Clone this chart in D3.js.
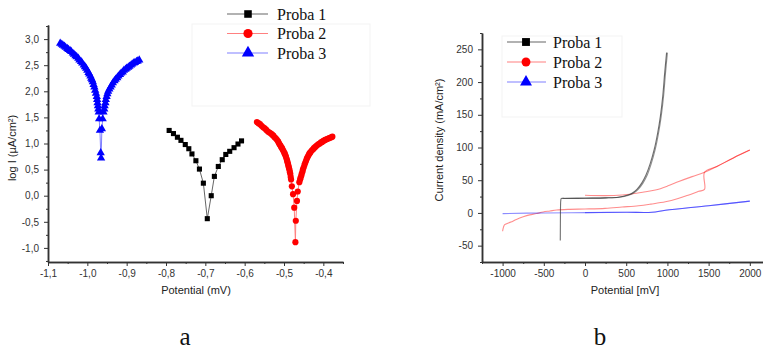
<!DOCTYPE html>
<html>
<head>
<meta charset="utf-8">
<script src="https://cdn.jsdelivr.net/npm/d3@7"></script>
<style>
  body { margin: 0; background: #fff; }
  svg { display: block; }
  .axis text { font-family: "Liberation Sans", Arial, sans-serif; font-size: 10px; fill: #333; }
  .axis path, .axis line { stroke: #333; }
  .axis path { stroke-width: 1.5; }
  .lbl { font-family: "Liberation Sans", Arial, sans-serif; font-size: 11px; fill: #222; }
  .cap { font-family: "Liberation Serif", "Times New Roman", serif; font-size: 25px; fill: #111; }
</style>
</head>
<body>
<svg id="fig" width="763" height="349"></svg>
<script>
// ---- data ----
var probaNames = ['Proba 1', 'Proba 2', 'Proba 3'];

// panel a : log I vs potential (V, shown as "mV")
var tafelProba1 = [
  [-0.792, 1.25], [-0.781, 1.19], [-0.771, 1.12], [-0.762, 1.06], [-0.751, 0.98],
  [-0.742, 0.90], [-0.734, 0.80], [-0.724, 0.67], [-0.715, 0.51], [-0.705, 0.24],
  [-0.695, -0.44], [-0.685, 0.00], [-0.677, 0.37], [-0.667, 0.56], [-0.657, 0.69],
  [-0.648, 0.79], [-0.638, 0.85], [-0.627, 0.92], [-0.617, 0.99], [-0.608, 1.05]
];
var tafelProba2 = [
  [-0.569, 1.41], [-0.565, 1.39], [-0.561, 1.37], [-0.557, 1.34], [-0.553, 1.31],
  [-0.549, 1.29], [-0.545, 1.26], [-0.541, 1.23], [-0.537, 1.21], [-0.533, 1.19],
  [-0.530, 1.17], [-0.527, 1.15], [-0.524, 1.12], [-0.521, 1.10], [-0.518, 1.07],
  [-0.515, 1.04], [-0.513, 1.01], [-0.511, 0.98], [-0.509, 0.96], [-0.507, 0.93],
  [-0.505, 0.91], [-0.503, 0.88], [-0.501, 0.85], [-0.499, 0.82], [-0.498, 0.80],
  [-0.496, 0.77], [-0.495, 0.74], [-0.493, 0.70], [-0.492, 0.67], [-0.491, 0.64],
  [-0.490, 0.61], [-0.489, 0.58], [-0.488, 0.55], [-0.487, 0.52], [-0.486, 0.49],
  [-0.485, 0.45], [-0.484, 0.42], [-0.483, 0.36], [-0.482, 0.31], [-0.480, 0.18],
  [-0.477, 0.03], [-0.474, -0.23], [-0.471, -0.89], [-0.470, -0.48], [-0.467, -0.10],
  [-0.465, 0.08], [-0.461, 0.26], [-0.459, 0.31], [-0.458, 0.34], [-0.456, 0.38],
  [-0.455, 0.42], [-0.453, 0.46], [-0.452, 0.50], [-0.450, 0.54], [-0.448, 0.59],
  [-0.446, 0.63], [-0.444, 0.67], [-0.442, 0.71], [-0.440, 0.74], [-0.438, 0.77],
  [-0.436, 0.80], [-0.434, 0.82], [-0.432, 0.84], [-0.429, 0.87], [-0.426, 0.89],
  [-0.424, 0.91], [-0.421, 0.93], [-0.418, 0.95], [-0.415, 0.97], [-0.412, 0.99],
  [-0.409, 1.00], [-0.406, 1.02], [-0.403, 1.03], [-0.400, 1.05], [-0.397, 1.06],
  [-0.395, 1.07], [-0.392, 1.08], [-0.389, 1.09], [-0.386, 1.10], [-0.383, 1.11],
  [-0.380, 1.12], [-0.377, 1.13]
];
var tafelProba3 = [
  [-1.069, 2.92], [-1.065, 2.90], [-1.062, 2.88], [-1.058, 2.86], [-1.055, 2.84],
  [-1.051, 2.82], [-1.048, 2.80], [-1.044, 2.78], [-1.041, 2.76], [-1.037, 2.73],
  [-1.034, 2.71], [-1.030, 2.68], [-1.027, 2.66], [-1.023, 2.63], [-1.020, 2.60],
  [-1.016, 2.57], [-1.013, 2.54], [-1.009, 2.50], [-1.006, 2.47], [-1.003, 2.44],
  [-1.000, 2.40], [-0.997, 2.36], [-0.995, 2.33], [-0.992, 2.29], [-0.990, 2.25],
  [-0.988, 2.22], [-0.986, 2.18], [-0.984, 2.13], [-0.982, 2.08], [-0.980, 2.02],
  [-0.978, 1.96], [-0.976, 1.90], [-0.975, 1.84], [-0.974, 1.78], [-0.973, 1.72],
  [-0.972, 1.66], [-0.971, 1.60], [-0.970, 1.47], [-0.968, 1.25], [-0.966, 0.82],
  [-0.965, 0.72], [-0.963, 1.28], [-0.961, 1.47], [-0.959, 1.60], [-0.957, 1.66],
  [-0.956, 1.72], [-0.954, 1.78], [-0.953, 1.84], [-0.951, 1.90], [-0.949, 1.95],
  [-0.947, 2.00], [-0.944, 2.04], [-0.941, 2.08], [-0.938, 2.12], [-0.935, 2.16],
  [-0.931, 2.20], [-0.928, 2.23], [-0.924, 2.26], [-0.921, 2.29], [-0.917, 2.32],
  [-0.914, 2.35], [-0.910, 2.37], [-0.907, 2.40], [-0.903, 2.42], [-0.900, 2.44],
  [-0.896, 2.46], [-0.893, 2.48], [-0.889, 2.50], [-0.886, 2.52], [-0.882, 2.54],
  [-0.879, 2.55], [-0.875, 2.57], [-0.872, 2.58], [-0.868, 2.60]
];
var tafelXTicks = [-1.1, -1.0, -0.9, -0.8, -0.7, -0.6, -0.5, -0.4];
var tafelYTicks = [-1.0, -0.5, 0.0, 0.5, 1.0, 1.5, 2.0, 2.5, 3.0];

// panel b : current density vs potential (mV)
var cvProba1Fwd = [
  [-300, -42], [-299, -20], [-297, 10], [-294, 19], [-288, 22], [-250, 22], [0, 22.5],
  [250, 23], [400, 24], [500, 26.5], [570, 30], [630, 36], [690, 46], [740, 58],
  [790, 75], [840, 97], [880, 121], [915, 148], [943, 178], [967, 214], [990, 245]
];
var cvProba1Rev = [
  [1000, 245], [977, 214], [953, 178], [925, 148], [891, 121], [852, 97], [803, 75],
  [755, 58], [705, 46], [645, 36], [585, 30], [520, 26.5], [420, 24], [250, 23], [-270, 22.5]
];
var cvProba2Low = [
  [-1000, -28], [-990, -22], [-975, -18], [-900, -14], [-833, -10], [-750, -6],
  [-671, -3], [-590, -1], [-508, 1.5], [-425, 3], [-345, 4.5], [-183, 5.5], [0, 6],
  [244, 7], [450, 9], [650, 11], [800, 13.5], [976, 17], [1130, 22], [1260, 27.5],
  [1380, 33], [1450, 36], [1450, 62], [1600, 71], [1800, 84], [2000, 96]
];
var cvProba2Up = [
  [0, 27], [250, 26.5], [450, 27.5], [570, 29], [700, 31.5], [854, 35], [1000, 41],
  [1138, 48], [1300, 55.5], [1450, 62], [1600, 71], [1800, 84], [2000, 96]
];
var cvProba3Fwd = [
  [-1000, -1], [-500, 0], [0, 0.5], [500, 1], [813, 1], [976, 4], [1500, 11], [2000, 18]
];
var cvProba3Rev = [
  [2000, 18], [1500, 11], [976, 4], [813, 1], [500, 1], [0, 0.5]
];
var cvXTicks = [-1000, -500, 0, 500, 1000, 1500, 2000];
var cvYTicks = [-50, 0, 50, 100, 150, 200, 250];

// ---- helpers ----
var serif = '"Liberation Serif", "Times New Roman", serif';
var commaFmt = d3.formatLocale({decimal: ',', thousands: '', grouping: [3], currency: ['', ''], minus: '-'});
var fmt1 = commaFmt.format('.1f');
var fmt0 = commaFmt.format('d');

function midpoints(t) {
  var out = [];
  for (var i = 0; i < t.length - 1; i++) out.push((t[i] + t[i + 1]) / 2);
  out.unshift(t[0] - (t[1] - t[0]) / 2);
  out.push(t[t.length - 1] + (t[1] - t[0]) / 2);
  return out;
}

function drawAxes(g, x, y, xt, yt, fx, fy) {
  var xr = x.range(), yr = y.range();
  var xa = d3.axisBottom(x).tickValues(xt).tickFormat(fx).tickSize(4).tickSizeOuter(0).tickPadding(4);
  var xm = d3.axisBottom(x).tickValues(midpoints(xt).filter(function(v){ return x(v) >= xr[0] && x(v) <= xr[1]; }))
             .tickFormat('').tickSize(2).tickSizeOuter(0);
  var ya = d3.axisLeft(y).tickValues(yt).tickFormat(fy).tickSize(4).tickSizeOuter(0).tickPadding(5);
  var ym = d3.axisLeft(y).tickValues(midpoints(yt).filter(function(v){ return y(v) <= yr[0] && y(v) >= yr[1]; }))
             .tickFormat('').tickSize(2).tickSizeOuter(0);
  g.append('g').attr('class', 'axis').attr('transform', 'translate(0,' + yr[0] + ')').call(xm);
  g.append('g').attr('class', 'axis').attr('transform', 'translate(0,' + yr[0] + ')').call(xa);
  g.append('g').attr('class', 'axis').attr('transform', 'translate(' + xr[0] + ',0)').call(ym);
  g.append('g').attr('class', 'axis').attr('transform', 'translate(' + xr[0] + ',0)').call(ya);
}

var svg = d3.select('#fig');

// ================= panel a =================
var xa = d3.scaleLinear().domain([-1.1, -0.35]).range([48, 343]);
var ya = d3.scaleLinear().domain([-1.27, 3.27]).range([262, 25]);
var ga = svg.append('g');

var tafelSeries = [
  {data: tafelProba1, line: '#666', fill: '#000', sym: d3.symbolSquare, size: 26},
  {data: tafelProba2, line: '#ff8080', fill: '#ff0000', sym: d3.symbolCircle, size: 30},
  {data: tafelProba3, line: '#8080ff', fill: '#0000ff', sym: d3.symbolTriangle, size: 30}
];

// legend frame (faint)
ga.append('rect').attr('x', 192).attr('y', 24).attr('width', 178).attr('height', 82)
  .attr('fill', 'none').attr('stroke', '#f3f3f3');

var lineA = d3.line().x(function(d){ return xa(d[0]); }).y(function(d){ return ya(d[1]); });
tafelSeries.forEach(function(s) {
  ga.append('path').datum(s.data).attr('d', lineA)
    .attr('fill', 'none').attr('stroke', s.line).attr('stroke-width', 1);
  ga.selectAll(null).data(s.data).enter().append('path')
    .attr('transform', function(d){ return 'translate(' + xa(d[0]) + ',' + ya(d[1]) + ')'; })
    .attr('d', d3.symbol().type(s.sym).size(s.size))
    .attr('fill', s.fill);
});

drawAxes(ga, xa, ya, tafelXTicks, tafelYTicks, fmt1, fmt1);

ga.append('text').attr('class', 'lbl').attr('x', 196).attr('y', 294)
  .attr('text-anchor', 'middle').text('Potential (mV)');
ga.append('text').attr('class', 'lbl').attr('transform', 'translate(16,148) rotate(-90)')
  .attr('text-anchor', 'middle').text('log I (µA/cm²)');

// legend a
var legA = ga.append('g');
tafelSeries.forEach(function(s, i) {
  var yy = 14 + i * 19.5;
  legA.append('line').attr('x1', 227).attr('x2', 268).attr('y1', yy).attr('y2', yy)
    .attr('stroke', s.line).attr('stroke-width', 1.2);
  legA.append('path').attr('transform', 'translate(248,' + yy + ')')
    .attr('d', d3.symbol().type(s.sym).size(s.size * 2.2)).attr('fill', s.fill);
  legA.append('text').attr('x', 277).attr('y', yy + 5.5)
    .style('font-family', serif).style('font-size', '16px').style('fill', '#111')
    .text(probaNames[i]);
});

// ================= panel b =================
var xb = d3.scaleLinear().domain([-1250, 2160]).range([482, 763]);
var yb = d3.scaleLinear().domain([-75, 275]).range([262, 33]);
var gb = svg.append('g');

gb.append('rect').attr('x', 502).attr('y', 36).attr('width', 120).attr('height', 81)
  .attr('fill', 'none').attr('stroke', '#f3f3f3');

var lineB = d3.line().curve(d3.curveCatmullRom.alpha(0.5))
  .x(function(d){ return xb(d[0]); }).y(function(d){ return yb(d[1]); });
var cvSeries = [
  {data: cvProba2Low, color: '#ff0000', op: 0.45},
  {data: cvProba2Up, color: '#ff0000', op: 0.45},
  {data: cvProba3Fwd, color: '#0000ff', op: 0.45},
  {data: cvProba3Rev, color: '#0000ff', op: 0.4},
  {data: cvProba1Fwd, color: '#333', op: 0.7},
  {data: cvProba1Rev, color: '#333', op: 0.55}
];
cvSeries.forEach(function(s) {
  gb.append('path').datum(s.data).attr('d', lineB)
    .attr('fill', 'none').attr('stroke', s.color).attr('stroke-opacity', s.op).attr('stroke-width', 1.1);
});

drawAxes(gb, xb, yb, cvXTicks, cvYTicks, fmt0, fmt0);

gb.append('text').attr('class', 'lbl').attr('x', 625).attr('y', 294)
  .attr('text-anchor', 'middle').text('Potential [mV]');
gb.append('text').attr('class', 'lbl').attr('transform', 'translate(443,140) rotate(-90)')
  .attr('text-anchor', 'middle').text('Current density (mA/cm²)');

// legend b
var legB = gb.append('g');
var legColorsB = [['#666', '#000'], ['#ff8080', '#ff0000'], ['#8080ff', '#0000ff']];
[d3.symbolSquare, d3.symbolCircle, d3.symbolTriangle].forEach(function(sym, i) {
  var yy = 42 + i * 20;
  legB.append('line').attr('x1', 507).attr('x2', 546).attr('y1', yy).attr('y2', yy)
    .attr('stroke', legColorsB[i][0]).attr('stroke-width', 1.2);
  legB.append('path').attr('transform', 'translate(526,' + yy + ')')
    .attr('d', d3.symbol().type(sym).size(62)).attr('fill', legColorsB[i][1]);
  legB.append('text').attr('x', 553).attr('y', yy + 5.5)
    .style('font-family', serif).style('font-size', '16px').style('fill', '#111')
    .text(probaNames[i]);
});

// captions
svg.append('text').attr('class', 'cap').attr('x', 185).attr('y', 345).attr('text-anchor', 'middle').text('a');
svg.append('text').attr('class', 'cap').attr('x', 600).attr('y', 345).attr('text-anchor', 'middle').text('b');
</script>
</body>
</html>
